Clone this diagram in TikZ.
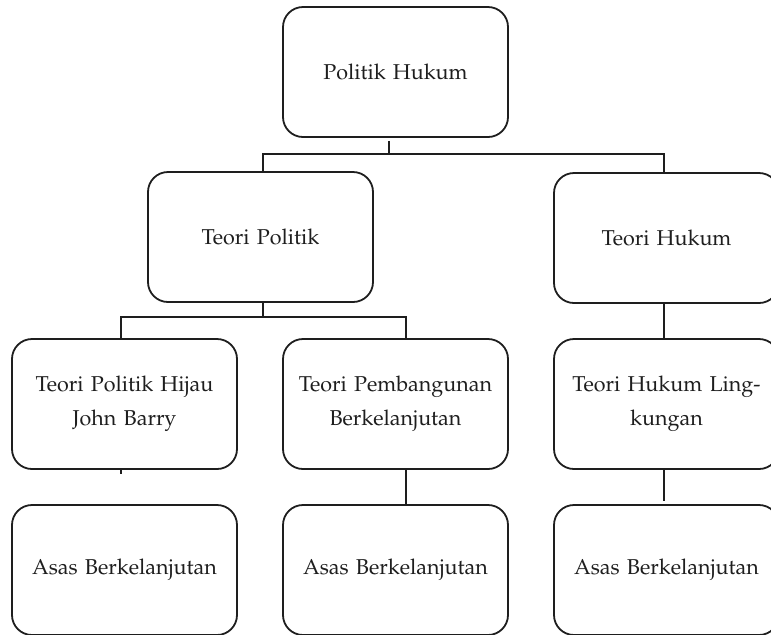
\documentclass[tikz,border=0pt]{standalone}
\usepackage[T1]{fontenc}
\usepackage{mathpazo}
\usepackage{xcolor}
\definecolor{ink}{RGB}{30,30,30}

\begin{document}
\begin{tikzpicture}[x=0.5pt, y=-0.5pt, line width=0.9pt,
    box/.style={draw=ink, rounded corners=10pt, minimum width=112.5pt, minimum height=65pt,
        text width=104pt, align=center, text=ink, font=\fontsize{10.75}{17}\selectfont}]
    \useasboundingbox (0,0) rectangle (771,634);
    \clip (0,0) rectangle (771,634);

    % Top
    \node[box] (politik) at (395.5,72) {Politik Hukum};

    % Theories
    \node[box] (teoripol) at (260.5,237) {Teori Politik};
    \node[box] (teorihuk) at (666.5,238) {Teori Hukum};

    % Specific theories
    \node[box] (hijau) at (124.5,404) {Teori Politik Hijau\\John Barry};
    \node[box] (bangun) at (395.5,404) {Teori Pembangunan\\Berkelanjutan};
    \node[box] (lingk) at (666.5,404) {Teori Hukum Ling-\\kungan};

    % Principles
    \node[box] (asas1) at (124.5,570) {Asas Berkelanjutan};
    \node[box] (asas2) at (395.5,570) {Asas Berkelanjutan};
    \node[box] (asas3) at (666.5,570) {Asas Berkelanjutan};

    % Junctions
    \coordinate (j1) at (389,154);
    \coordinate (j2) at (263,317);
    \coordinate (stub) at (121,474);

    % Connections
    \draw[ink] ([yshift=-1.5pt]politik.south -| j1) -- (j1);
    \draw[ink] (teoripol.north -| j2) |- (j1) -| ([xshift=-1.25pt]teorihuk.north);
    \draw[ink] (teoripol.south -| j2) -- (j2);
    \draw[ink] (hijau.north -| stub) |- (j2) -| ([xshift=5.25pt]bangun.north);
    \draw[ink] ([xshift=-1.25pt]teorihuk.south) -- ([xshift=-1.25pt]lingk.north);
    \draw[ink] (hijau.south -| stub) -- (stub);
    \draw[ink] ([xshift=5.25pt]bangun.south) -- ([xshift=5.25pt]asas2.north);
    \draw[ink] ([xshift=-1.25pt]lingk.south) -- ([xshift=-1.25pt,yshift=1.5pt]asas3.north);
\end{tikzpicture}
\end{document}
